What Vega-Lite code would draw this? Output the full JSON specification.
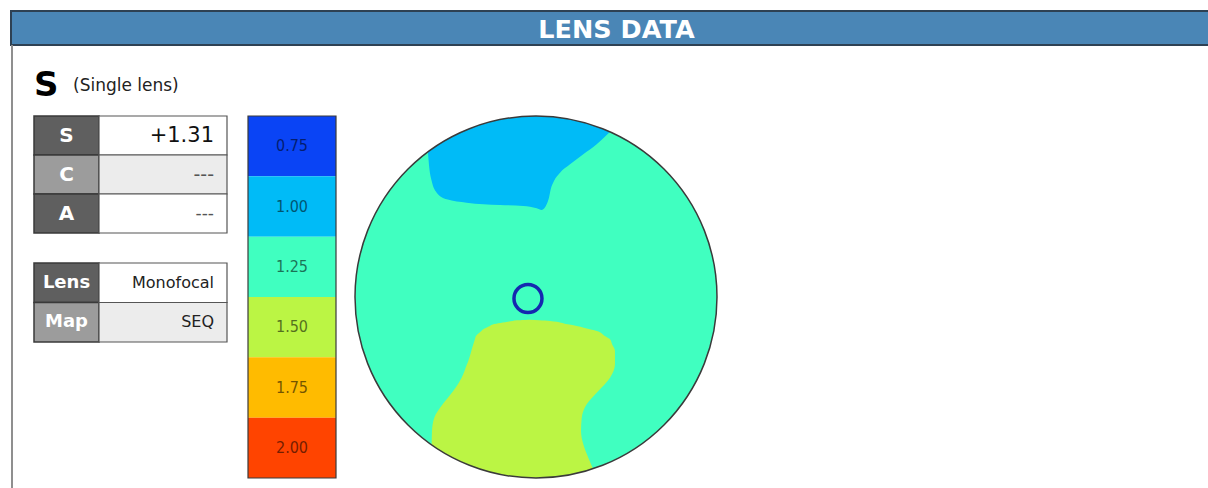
{
  "$schema": "https://vega.github.io/schema/vega-lite/v6.json",
  "padding": {"left": 10, "top": 10, "right": 0, "bottom": 0},
  "background": "white",
  "config": {"view": {"stroke": null}, "font": "DejaVu Sans"},
  "datasets": {
    "header": [{"title": "LENS DATA"}],
    "heading": [{"part": "S"}, {"part": "(Single lens)"}],
    "rx": [{"key": "S", "value": "+1.31"}, {"key": "C", "value": "---"}, {"key": "A", "value": "---"}],
    "lensinfo": [{"key": "Lens", "value": "Monofocal"}, {"key": "Map", "value": "SEQ"}],
    "bins": [{"power": "0.75"}, {"power": "1.00"}, {"power": "1.25"}, {"power": "1.50"}, {"power": "1.75"}, {"power": "2.00"}],
    "edge": [{"edge": "frame"}],
    "disk": [{"x": 0, "y": 0}],
    "centre": [{"x": -1.33, "y": -0.25}],
    "zone100": [
      {"x": -17.9, "y": 23.87}, {"x": -17.69, "y": 21.43}, {"x": -17.29, "y": 19.23}, {"x": -16.46, "y": 17.29},
      {"x": -14.8, "y": 16.19}, {"x": -11.49, "y": 15.63}, {"x": -5.97, "y": 15.25}, {"x": -2.1, "y": 15.08},
      {"x": 0.12, "y": 14.7}, {"x": 0.94, "y": 14.42}, {"x": 1.77, "y": 15.37}, {"x": 2.15, "y": 16.46},
      {"x": 2.44, "y": 17.85}, {"x": 2.98, "y": 19.23}, {"x": 3.98, "y": 20.6}, {"x": 5.64, "y": 22.0},
      {"x": 7.84, "y": 23.65}, {"x": 10.06, "y": 25.31}, {"x": 11.72, "y": 26.85}, {"x": 13.09, "y": 28.18}
    ],
    "zone150": [
      {"y": -3.76, "x_left": -0.99, "x_right": -0.99},
      {"y": -3.86, "x_left": -3.2, "x_right": 0.53},
      {"y": -3.98, "x_left": -3.88, "x_right": 2.32},
      {"y": -4.53, "x_left": -7.08, "x_right": 5.24},
      {"y": -4.81, "x_left": -7.64, "x_right": 6.75},
      {"y": -5.35, "x_left": -8.74, "x_right": 8.93},
      {"y": -5.64, "x_left": -9.05, "x_right": 10.06},
      {"y": -6.46, "x_left": -9.95, "x_right": 11.39},
      {"y": -7.01, "x_left": -10.13, "x_right": 12.27},
      {"y": -7.84, "x_left": -10.39, "x_right": 12.61},
      {"y": -8.95, "x_left": -10.72, "x_right": 13.09},
      {"y": -10.61, "x_left": -11.22, "x_right": 13.09},
      {"y": -11.16, "x_left": -11.44, "x_right": 13.09},
      {"y": -13.38, "x_left": -12.32, "x_right": 12.27},
      {"y": -15.58, "x_left": -13.72, "x_right": 10.33},
      {"y": -17.79, "x_left": -15.47, "x_right": 8.4},
      {"y": -20.01, "x_left": -16.86, "x_right": 7.58},
      {"y": -22.21, "x_left": -17.24, "x_right": 7.46},
      {"y": -24.42, "x_left": -17.29, "x_right": 7.84},
      {"y": -26.64, "x_left": -17.24, "x_right": 8.67},
      {"y": -28.84, "x_left": -17.16, "x_right": 9.61},
      {"y": -31.82, "x_left": -17.07, "x_right": 10.77}
    ]
  },
  "spacing": 0,
  "bounds": "flush",
  "resolve": {"scale": {"color": "independent", "size": "independent"}},
  "vconcat": [
    {
      "width": 1198,
      "height": 34,
      "view": {"fill": "#4a86b6", "stroke": "#2e4153", "strokeWidth": 2},
      "data": {"name": "header"},
      "mark": {"type": "text", "font": "DejaVu Sans", "fontWeight": "bold", "fontSize": 25.5, "color": "#ffffff", "baseline": "alphabetic", "dx": 6.5, "dy": 9.5},
      "encoding": {"text": {"field": "title"}}
    },
    {
      "spacing": 21,
      "bounds": "flush",
      "resolve": {"scale": {"color": "independent", "size": "independent"}},
      "hconcat": [
        {
          "width": 2,
          "height": 444,
          "data": {"name": "edge"},
          "mark": {"type": "rect", "color": "#8f8f8f"},
          "encoding": {}
        },
        {
          "spacing": 0,
          "bounds": "flush",
          "resolve": {"scale": {"color": "independent", "size": "independent"}},
          "vconcat": [
            {
              "width": 78,
              "height": 71,
              "data": {"name": "heading"},
              "layer": [
                {
                  "transform": [{"filter": "datum.part === 'S'"}],
                  "mark": {"type": "text", "align": "left", "baseline": "alphabetic", "fontSize": 34, "fontWeight": "bold", "color": "#000000", "dy": 15.5},
                  "encoding": {
                    "x": {"field": "part", "type": "nominal", "sort": null, "bandPosition": 0, "axis": null, "scale": {"type": "band", "domain": ["S", "(Single lens)"], "paddingInner": 0, "paddingOuter": 0}},
                    "text": {"field": "part"}
                  }
                },
                {
                  "transform": [{"filter": "datum.part !== 'S'"}],
                  "mark": {"type": "text", "align": "left", "baseline": "alphabetic", "fontSize": 17, "color": "#222222", "dy": 10.5},
                  "encoding": {
                    "x": {"field": "part", "type": "nominal", "sort": null, "bandPosition": 0, "axis": null, "scale": {"type": "band", "domain": ["S", "(Single lens)"], "paddingInner": 0, "paddingOuter": 0}},
                    "text": {"field": "part"}
                  }
                }
              ]
            },
            {
              "spacing": 19,
              "resolve": {"scale": {"color": "independent", "size": "independent"}},
              "hconcat": [
                {
                  "spacing": 28,
                  "resolve": {"scale": {"color": "independent", "size": "independent"}},
                  "vconcat": [
                    {
                      "spacing": 0,
                      "bounds": "flush",
                      "resolve": {"scale": {"color": "independent", "size": "independent"}},
                      "hconcat": [
                        {
                          "width": 65,
                          "height": 117,
                          "data": {"name": "rx"},
                          "layer": [
                            {
                              "mark": {"type": "rect", "stroke": "#3a3a3a", "strokeWidth": 1.5},
                              "encoding": {
                                "y": {"field": "key", "type": "nominal", "sort": null, "axis": null, "scale": {"paddingInner": 0, "paddingOuter": 0}},
                                "color": {"field": "key", "type": "nominal", "legend": null, "scale": {"domain": ["S", "C", "A"], "range": ["#5f5f5f", "#9c9c9c", "#5f5f5f"]}}
                              }
                            },
                            {
                              "mark": {"type": "text", "fontWeight": "bold", "fontSize": 20, "color": "#ffffff"},
                              "encoding": {
                                "y": {"field": "key", "type": "nominal", "sort": null, "axis": null},
                                "text": {"field": "key"}
                              }
                            }
                          ]
                        },
                        {
                          "width": 128,
                          "height": 117,
                          "data": {"name": "rx"},
                          "resolve": {"scale": {"color": "independent"}},
                          "layer": [
                            {
                              "mark": {"type": "rect", "stroke": "#555555", "strokeWidth": 1.2},
                              "encoding": {
                                "y": {"field": "key", "type": "nominal", "sort": null, "axis": null, "scale": {"paddingInner": 0, "paddingOuter": 0}},
                                "color": {"field": "key", "type": "nominal", "legend": null, "scale": {"domain": ["S", "C", "A"], "range": ["#ffffff", "#ececec", "#ffffff"]}}
                              }
                            },
                            {
                              "mark": {"type": "text", "align": "right", "dx": -13},
                              "encoding": {
                                "x": {"value": "width"},
                                "y": {"field": "key", "type": "nominal", "sort": null, "axis": null},
                                "text": {"field": "value"},
                                "size": {"field": "key", "type": "ordinal", "legend": null, "scale": {"domain": ["S", "C", "A"], "range": [21, 17, 17]}},
                                "color": {"field": "key", "type": "nominal", "legend": null, "scale": {"domain": ["S", "C", "A"], "range": ["#111111", "#555555", "#555555"]}}
                              }
                            }
                          ]
                        }
                      ]
                    },
                    {
                      "spacing": 0,
                      "bounds": "flush",
                      "resolve": {"scale": {"color": "independent", "size": "independent"}},
                      "hconcat": [
                        {
                          "width": 65,
                          "height": 79,
                          "data": {"name": "lensinfo"},
                          "layer": [
                            {
                              "mark": {"type": "rect", "stroke": "#3a3a3a", "strokeWidth": 1.5},
                              "encoding": {
                                "y": {"field": "key", "type": "nominal", "sort": null, "axis": null, "scale": {"paddingInner": 0, "paddingOuter": 0}},
                                "color": {"field": "key", "type": "nominal", "legend": null, "scale": {"domain": ["Lens", "Map"], "range": ["#5f5f5f", "#9c9c9c"]}}
                              }
                            },
                            {
                              "mark": {"type": "text", "fontWeight": "bold", "fontSize": 18, "color": "#ffffff"},
                              "encoding": {
                                "y": {"field": "key", "type": "nominal", "sort": null, "axis": null},
                                "text": {"field": "key"}
                              }
                            }
                          ]
                        },
                        {
                          "width": 128,
                          "height": 79,
                          "data": {"name": "lensinfo"},
                          "layer": [
                            {
                              "mark": {"type": "rect", "stroke": "#555555", "strokeWidth": 1.2},
                              "encoding": {
                                "y": {"field": "key", "type": "nominal", "sort": null, "axis": null, "scale": {"paddingInner": 0, "paddingOuter": 0}},
                                "color": {"field": "key", "type": "nominal", "legend": null, "scale": {"domain": ["Lens", "Map"], "range": ["#ffffff", "#ececec"]}}
                              }
                            },
                            {
                              "mark": {"type": "text", "align": "right", "dx": -13, "fontSize": 16, "color": "#222222"},
                              "encoding": {
                                "x": {"value": "width"},
                                "y": {"field": "key", "type": "nominal", "sort": null, "axis": null},
                                "text": {"field": "value"}
                              }
                            }
                          ]
                        }
                      ]
                    }
                  ]
                },
                {
                  "spacing": 19,
                  "bounds": "flush",
                  "resolve": {"scale": {"color": "independent", "size": "independent"}},
                  "hconcat": [
                    {
                      "width": 88,
                      "height": 362,
                      "layer": [
                        {
                          "data": {"name": "bins"},
                          "mark": {"type": "rect"},
                          "encoding": {
                            "y": {"field": "power", "type": "ordinal", "sort": null, "axis": null, "scale": {"paddingInner": 0, "paddingOuter": 0}},
                            "color": {"field": "power", "type": "ordinal", "legend": null, "scale": {"domain": ["0.75", "1.00", "1.25", "1.50", "1.75", "2.00"], "range": ["#0a44f5", "#00bbf7", "#40ffc0", "#bbf544", "#ffbb00", "#ff4400"]}}
                          }
                        },
                        {
                          "data": {"name": "bins"},
                          "mark": {"type": "text", "fontSize": 16, "font": "DejaVu Sans Condensed, Liberation Sans Narrow, DejaVu Sans", "color": "#000000", "opacity": 0.55},
                          "encoding": {
                            "y": {"field": "power", "type": "ordinal", "sort": null, "axis": null},
                            "text": {"field": "power"}
                          }
                        },
                        {
                          "data": {"name": "edge"},
                          "mark": {"type": "rect", "fillOpacity": 0, "stroke": "#3a3a3a", "strokeWidth": 1.2},
                          "encoding": {}
                        }
                      ]
                    },
                    {
                      "width": 362,
                      "height": 362,
                      "layer": [
                        {
                          "data": {"name": "disk"},
                          "mark": {"type": "point", "shape": "circle", "filled": true, "size": 131044, "opacity": 1, "color": "#40ffc0", "strokeWidth": 0},
                          "encoding": {
                            "x": {"field": "x", "type": "quantitative", "axis": null, "scale": {"domain": [-30, 30], "nice": false, "zero": false}},
                            "y": {"field": "y", "type": "quantitative", "axis": null, "scale": {"domain": [-30, 30], "nice": false, "zero": false}}
                          }
                        },
                        {
                          "data": {"name": "zone100"},
                          "mark": {"type": "area", "orient": "vertical", "interpolate": "monotone", "color": "#00bbf7", "clip": true, "opacity": 1},
                          "encoding": {
                            "x": {"field": "x", "type": "quantitative"},
                            "y": {"field": "y", "type": "quantitative"},
                            "y2": {"datum": 31}
                          }
                        },
                        {
                          "data": {"name": "zone150"},
                          "mark": {"type": "area", "orient": "horizontal", "interpolate": "monotone", "color": "#bbf544", "clip": true, "opacity": 1},
                          "encoding": {
                            "y": {"field": "y", "type": "quantitative"},
                            "x": {"field": "x_left", "type": "quantitative"},
                            "x2": {"field": "x_right"}
                          }
                        },
                        {
                          "data": {"name": "disk"},
                          "mark": {"type": "point", "shape": "circle", "filled": false, "size": 186624, "opacity": 1, "stroke": "#ffffff", "strokeWidth": 70, "clip": true},
                          "encoding": {
                            "x": {"field": "x", "type": "quantitative"},
                            "y": {"field": "y", "type": "quantitative"}
                          }
                        },
                        {
                          "data": {"name": "disk"},
                          "mark": {"type": "point", "shape": "circle", "filled": false, "size": 131044, "opacity": 1, "stroke": "#3a3a3a", "strokeWidth": 1.5},
                          "encoding": {
                            "x": {"field": "x", "type": "quantitative"},
                            "y": {"field": "y", "type": "quantitative"}
                          }
                        },
                        {
                          "data": {"name": "centre"},
                          "mark": {"type": "point", "shape": "circle", "filled": false, "size": 784, "opacity": 1, "stroke": "#1528b0", "strokeWidth": 3.5},
                          "encoding": {
                            "x": {"field": "x", "type": "quantitative"},
                            "y": {"field": "y", "type": "quantitative"}
                          }
                        }
                      ]
                    }
                  ]
                }
              ]
            }
          ]
        }
      ]
    }
  ]
}
